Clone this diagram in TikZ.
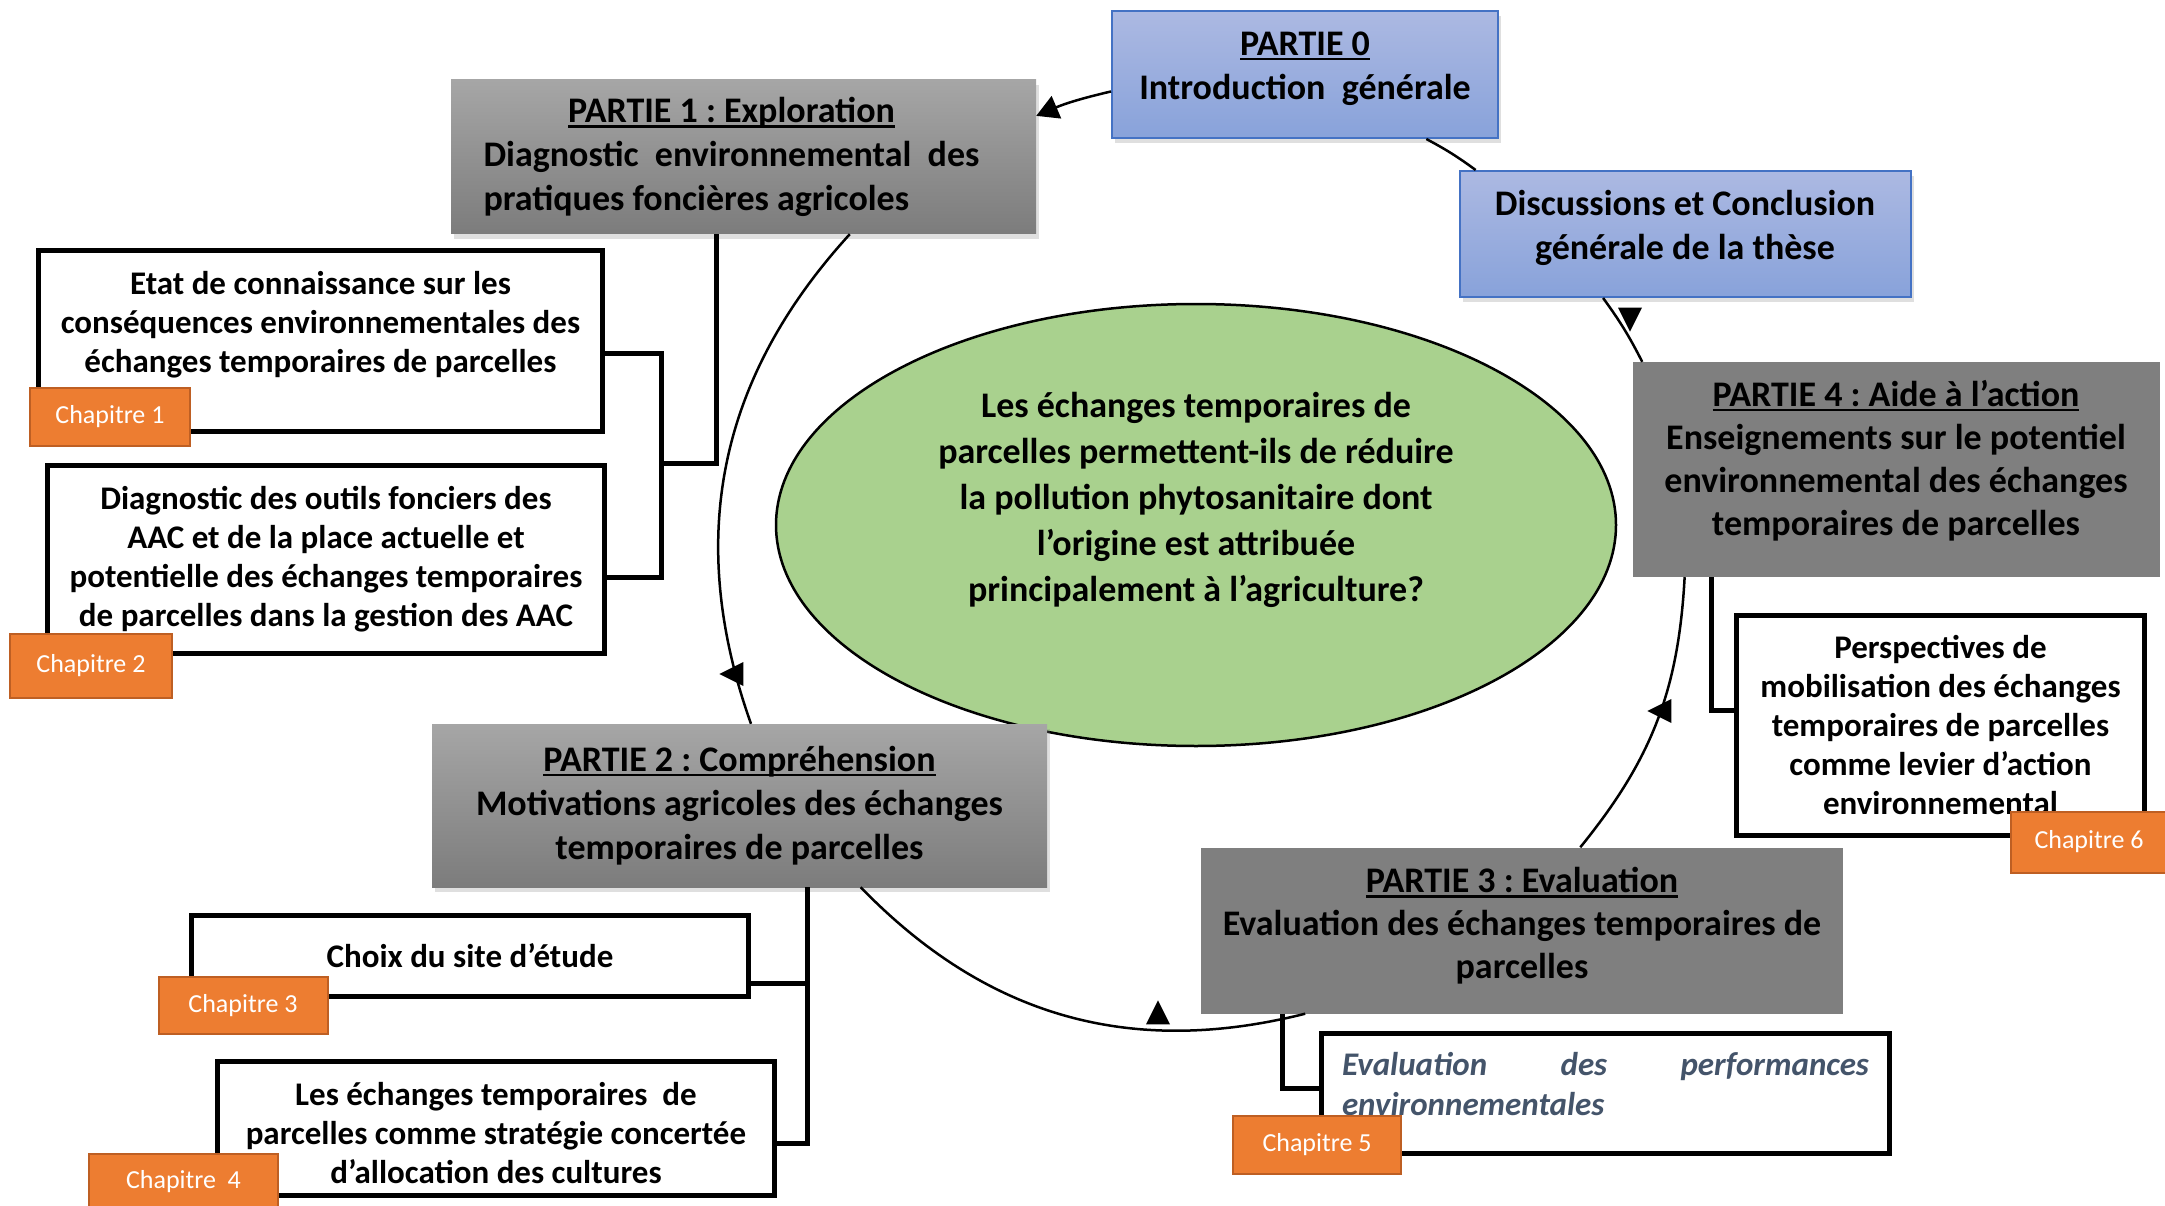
\documentclass[tikz,border=0pt]{standalone}
\usepackage{fontspec}
\setmainfont{Carlito}
\frenchspacing
\usetikzlibrary{shapes.geometric,shadows,arrows.meta}
\definecolor{grayTop}{RGB}{166,166,166}
\definecolor{grayBot}{RGB}{124,124,124}
\definecolor{grayFlat}{RGB}{127,127,127}
\definecolor{blueTop}{RGB}{172,185,226}
\definecolor{blueBot}{RGB}{136,162,218}
\definecolor{blueLine}{RGB}{68,114,196}
\definecolor{greenQ}{RGB}{169,209,142}
\definecolor{orangeCh}{RGB}{237,125,49}
\definecolor{orangeLine}{RGB}{190,95,35}
\definecolor{slateTxt}{RGB}{68,84,106}
\newsavebox\ulbox
\newcommand\uln[1]{\sbox\ulbox{#1}\rlap{\rule[-5pt]{\wd\ulbox}{2.5pt}}\usebox\ulbox}
\tikzset{
  partgrad/.style={rectangle, inner sep=0pt, top color=grayTop, bottom color=grayBot, drop shadow={opacity=0.25, shadow xshift=3pt, shadow yshift=-5pt}, align=center, font=\fontsize{36}{44}\selectfont\bfseries},
  partflat/.style={rectangle, inner sep=0pt, fill=grayFlat, align=center, font=\fontsize{36}{43}\selectfont\bfseries},
  partblue/.style={rectangle, inner sep=0pt, draw=blueLine, line width=2pt, top color=blueTop, bottom color=blueBot, drop shadow={opacity=0.25, shadow xshift=3pt, shadow yshift=-5pt}, align=center, font=\fontsize{36}{44}\selectfont\bfseries},
  chapbox/.style={rectangle, inner sep=0pt, draw=black, line width=5pt, fill=white, align=center, font=\fontsize{33}{39}\selectfont\bfseries},
  chaptag/.style={rectangle, inner sep=0pt, draw=orangeLine, line width=2pt, fill=orangeCh, text=white, font=\fontsize{26}{31}\selectfont},
  elbow/.style={draw=black, line width=5pt},
  loopline/.style={draw=black, line width=2.5pt},
  tipmark/.style={isosceles triangle, isosceles triangle stretches, fill=black, inner sep=0pt, minimum width=24pt, minimum height=24pt, shape border rotate=#1}
}
\begin{document}
\begin{tikzpicture}[x=1pt,y=-1pt]
\useasboundingbox (0,0) rectangle (2165,1206);
\node[ellipse, draw=black, line width=2.5pt, fill=greenQ, inner sep=0pt, minimum width=840pt, minimum height=442pt, align=center, font=\fontsize{36}{46}\selectfont\bfseries] (Q) at (1196,525) {Les échanges temporaires de\\parcelles permettent-ils de réduire\\la pollution phytosanitaire dont\\l’origine est attribuée\\principalement à l’agriculture?\\[11pt]\mbox{}};
\node[partblue, minimum width=386pt, minimum height=127pt] (P0) at (1305,74.5) {\uln{PARTIE 0}\\Introduction\ \ générale\\[-26pt]\mbox{}};
\node[partgrad, minimum width=585pt, minimum height=154pt, align=left] (P1) at (743.5,157) {\makebox[520pt][l]{\makebox[496pt]{\uln{PARTIE 1 : Exploration}}}\\\makebox[520pt][l]{\makebox[496pt][l]{Diagnostic\hfill environnemental\hfill des}}\\\makebox[520pt][l]{pratiques foncières agricoles}};
\node[partblue, minimum width=451pt, minimum height=126pt] (CG) at (1685,234) {Discussions et Conclusion\\générale de la thèse\\[-26pt]\mbox{}};
\node[partflat, minimum width=527pt, minimum height=215pt] (P4) at (1896,469.5) {\uln{PARTIE 4 : Aide à l’action}\\Enseignements sur le potentiel\\environnemental des échanges\\temporaires de parcelles\\[-19pt]\mbox{}};
\node[partgrad, minimum width=615pt, minimum height=163pt] (P2) at (739.5,805.5) {\uln{PARTIE 2 : Compréhension}\\Motivations agricoles des échanges\\temporaires de parcelles};
\node[partflat, minimum width=642pt, minimum height=166pt] (P3) at (1522,930.5) {\uln{PARTIE 3 : Evaluation}\\Evaluation des échanges temporaires de\\parcelles\\[-28pt]\mbox{}};
\node[chapbox, minimum width=564pt, minimum height=181pt] (K1) at (320.5,341) {Etat de connaissance sur les\\conséquences environnementales des\\échanges temporaires de parcelles\\ \mbox{}};
\node[chapbox, minimum width=557pt, minimum height=188pt] (K2) at (326,559.5) {Diagnostic des outils fonciers des\\AAC et de la place actuelle et\\potentielle des échanges temporaires\\de parcelles dans la gestion des AAC};
\node[chapbox, minimum width=557pt, minimum height=81pt] (K3) at (470,956) {Choix du site d’étude};
\node[chapbox, minimum width=557pt, minimum height=134pt] (K4) at (496,1128.5) {\mbox{}\\[-6pt]Les échanges temporaires\ \ de\\parcelles comme stratégie concertée\\d’allocation des cultures};
\node[chapbox, minimum width=568pt, minimum height=120pt, align=left, text=slateTxt, font=\fontsize{33}{40}\selectfont\bfseries\itshape] (K5) at (1605.5,1093.5) {\makebox[527pt][l]{Evaluation\hfill des\hfill performances}\\\makebox[527pt][l]{environnementales}\\[-20pt]\mbox{}};
\node[chapbox, minimum width=408pt, minimum height=220pt] (K6) at (1940.5,725.5) {Perspectives de\\mobilisation des échanges\\temporaires de parcelles\\comme levier d’action\\environnemental};
\node[chaptag, minimum width=160pt, minimum height=58pt] (Ch1) at (110,417) {Chapitre 1};
\node[chaptag, minimum width=162pt, minimum height=64pt] (Ch2) at (91,666) {Chapitre 2};
\node[chaptag, minimum width=169pt, minimum height=57pt] (Ch3) at (243,1005.5) {Chapitre 3};
\node[chaptag, minimum width=189pt, minimum height=56pt] (Ch4) at (183.5,1182) {Chapitre\ \ 4};
\node[chaptag, minimum width=168pt, minimum height=58pt] (Ch5) at (1317,1145) {Chapitre 5};
\node[chaptag, minimum width=156pt, minimum height=61pt] (Ch6) at (2089,842) {Chapitre 6};
\draw[loopline, -{Triangle[length=22pt,width=24pt]}] (P0.185.5) to[bend right=5] (P1.8.5);
\draw[loopline] (P1.-36.6) to[bend right=31] (P2.82.6);
\draw[loopline] (P2.-34) to[bend right=30] (P3.201.5);
\draw[loopline] (P3.55.8) to[bend right=18] (P4.207);
\draw[loopline] (P4.157) to[bend right=4.5] (CG.218.6);
\draw[loopline] (CG.163.1) to[bend right=4] (P0.-28.5);
\node[tipmark=180] (T1) at (736,674) {};
\node[tipmark=90] (T2) at (1158,1017) {};
\node[tipmark=180] (T3) at (1664,711) {};
\node[tipmark=270] (T4) at (1630,315) {};
\coordinate (B0) at (716,463);
\coordinate (B1) at (661,353);
\coordinate (B2) at (661,577);
\coordinate (B3) at (807,983);
\coordinate (B4) at (807,1143);
\coordinate (B5) at (1282,1088);
\coordinate (B6) at (1711,710);
\draw[elbow] (P1.south -| B0) -- (B0) -- (B0 -| B1);
\draw[elbow] (K1.east |- B1) -- (B1) -- (B2) -- (K2.east |- B2);
\draw[elbow] (P2.south -| B3) -- (B4) -- (K4.east |- B4);
\draw[elbow] (K3.east |- B3) -- (B3);
\draw[elbow] (P3.south -| B5) -- (B5) -- (K5.west |- B5);
\draw[elbow] (P4.south -| B6) -- (B6) -- (K6.west |- B6);
\end{tikzpicture}
\end{document}
